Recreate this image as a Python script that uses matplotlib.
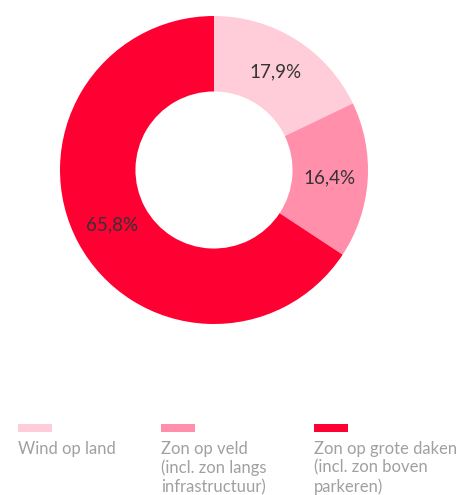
import matplotlib
matplotlib.use("Agg")
import matplotlib.pyplot as plt
from matplotlib.patches import Rectangle
import numpy as np

# data
categories = ["Wind op land",
              "Zon op veld\n(incl. zon langs\ninfrastructuur)",
              "Zon op grote daken\n(incl. zon boven\nparkeren)"]
shares = [17.9, 16.4, 65.8]
colours = ["#FFCCD9", "#FF8FAB", "#FF0033"]

plt.rcParams['font.family'] = ['Lato', 'DejaVu Sans']

W, H = 458, 495
fig = plt.figure(figsize=(W / 100, H / 100), dpi=100)

# donut: centre (214,170) px, outer radius 154 px
cx, cy, r = 214, 170, 154
ax = fig.add_axes([(cx - r) / W, (H - cy - r) / H, 2 * r / W, 2 * r / H])
wedges, texts = ax.pie(shares, colors=colours, startangle=90, counterclock=False,
                       radius=1.0, wedgeprops=dict(width=0.49, linewidth=0))
ax.set_xlim(-1, 1)
ax.set_ylim(-1, 1)
ax.set_aspect("equal")
ax.axis("off")

# percentage labels inside the ring
for w, v in zip(wedges, shares):
    mid = np.deg2rad((w.theta1 + w.theta2) / 2)
    ax.text(0.75 * np.cos(mid), 0.75 * np.sin(mid), f"{v:.1f}%".replace(".", ","),
            ha="center", va="center", fontsize=13.5, color="#333333")

# legend drawn by hand
leg_x = [18, 161, 314]
for x, c, lab in zip(leg_x, colours, categories):
    fig.patches.append(Rectangle((x / W, (H - 432) / H), 34 / W, 8 / H,
                                 transform=fig.transFigure, color=c, lw=0))
    fig.text(x / W, (H - 441) / H, lab, ha="left", va="top", fontsize=12,
             color="#A0A0A0", linespacing=1.2)

fig.savefig("out.png", dpi=100)
